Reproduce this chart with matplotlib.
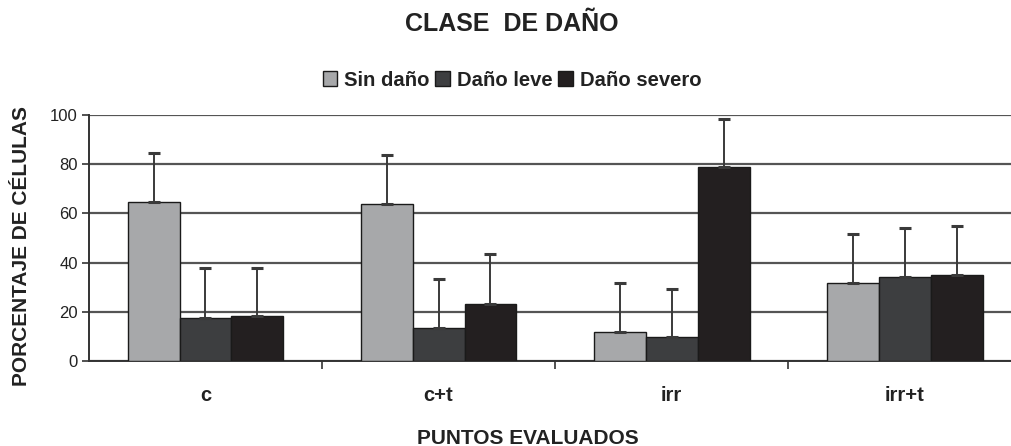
import matplotlib
matplotlib.use("Agg")
import matplotlib.pyplot as plt
import numpy as np

plt.rcParams["font.family"] = ["Liberation Sans", "DejaVu Sans"]

CATEGORIES = ["c", "c+t", "irr", "irr+t"]
SERIES = ["Sin daño", "Daño leve", "Daño severo"]
COLORS = ["#a7a8aa", "#3d3e40", "#231f20"]

# mean values per category, one list per damage class
SIN_DANO = [64.5, 63.9, 11.9, 31.6]
DANO_LEVE = [17.6, 13.4, 9.8, 34.1]
DANO_SEVERO = [18.3, 23.2, 78.9, 34.8]

# upper error bars
ERR_SIN = [20.2, 19.7, 19.8, 19.9]
ERR_LEVE = [20.1, 19.9, 19.6, 20.1]
ERR_SEVERO = [19.4, 20.2, 19.5, 19.9]

YTICKS = [0, 20, 40, 60, 80, 100]


def main():
    fig = plt.figure(figsize=(10.11, 4.46), dpi=100)
    ax = fig.add_axes([0.088, 0.1906, 0.922, 0.5516])

    values = [SIN_DANO, DANO_LEVE, DANO_SEVERO]
    errors = [ERR_SIN, ERR_LEVE, ERR_SEVERO]
    x = np.arange(len(CATEGORIES))
    width = 0.223

    handles = []
    for i, (vals, errs) in enumerate(zip(values, errors)):
        pos = x + (i - 1) * width
        bars = ax.bar(pos, vals, width, color=COLORS[i], edgecolor="#1a1a1a",
                      linewidth=1.0, zorder=3, label=SERIES[i])
        ax.errorbar(pos, vals, yerr=[[0] * len(vals), errs], fmt="none",
                    ecolor="#3a3a3a", elinewidth=1.4, capsize=4.5, capthick=2.2,
                    zorder=4)
        handles.append(bars)

    ax.set_xlim(-0.5, 3.5)
    ax.set_ylim(0, 100)
    ax.set_yticks(YTICKS)
    ax.set_xticks(x + 0.5)
    ax.set_xticklabels([])
    ax.tick_params(axis="x", length=6, width=1.2, color="#333333")
    ax.tick_params(axis="y", length=5, width=1.2, color="#333333",
                   labelsize=12, labelcolor="#222222", pad=3)
    for xi, lab in zip(x, CATEGORIES):
        ax.text(xi, -14, lab, ha="center", va="center", fontsize=14.5,
                fontweight="bold", color="#222222",
                transform=ax.transData, clip_on=False)

    ax.yaxis.grid(True, color="#555555", linewidth=1.6, zorder=0)
    ax.set_axisbelow(True)
    for side in ["top", "right"]:
        ax.spines[side].set_visible(False)
    for side in ["left", "bottom"]:
        ax.spines[side].set_color("#333333")
        ax.spines[side].set_linewidth(1.4)

    fig.text(22 / 1011, 1 - 246 / 446, "PORCENTAJE DE CÉLULAS", rotation=90,
             ha="center", va="center", fontsize=15, fontweight="bold",
             color="#222222")
    fig.text(528 / 1011, 1 - 438 / 446, "PUNTOS EVALUADOS", ha="center",
             va="center", fontsize=15, fontweight="bold", color="#222222")
    fig.text(512 / 1011, 1 - 24 / 446, "CLASE  DE DAÑO", ha="center",
             va="center", fontsize=18, fontweight="bold", color="#222222")

    fig.legend(handles=handles, labels=SERIES, loc="center",
               bbox_to_anchor=(512 / 1011, 1 - 80 / 446), ncol=3,
               frameon=False, prop={"weight": "bold", "size": 14.6},
               handlelength=0.7, handleheight=0.7, handletextpad=0.35,
               columnspacing=0.3, labelcolor="#222222")

    fig.savefig("out.png", dpi=100)
    plt.close(fig)


if __name__ == "__main__":
    main()
